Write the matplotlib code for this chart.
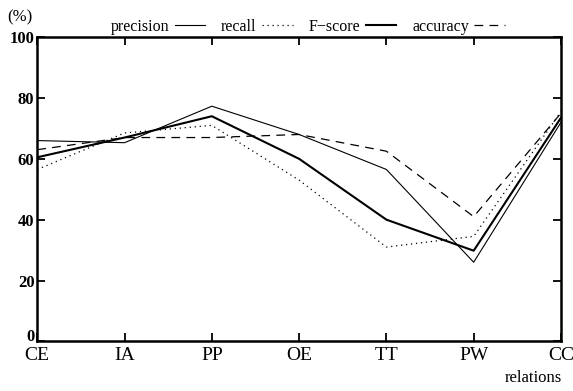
import matplotlib
matplotlib.use("Agg")
import matplotlib.pyplot as plt
import matplotlib.transforms as mtrans

plt.rcParams['font.family'] = ['Liberation Serif', 'DejaVu Serif']

# relation categories and scores (%)
relations = ['CE', 'IA', 'PP', 'OE', 'TT', 'PW', 'CC']
precision = [66, 65.3, 77.3, 68, 56.5, 26, 72]
recall = [56.5, 68.5, 71, 53, 31, 34.5, 75.5]
fscore = [60.5, 67, 74, 60, 40, 29.8, 73.5]
accuracy = [63, 67, 67, 68, 62.5, 41, 75]

x = list(range(len(relations)))

fig = plt.figure(figsize=(5.73, 3.91), dpi=100)
ax = fig.add_axes([0.065, 0.127, 0.914, 0.778])

ax.plot(x, precision, color='black', lw=0.8, label='precision')
ax.plot(x, recall, color='black', lw=0.9, ls=(0, (1, 3)), label='recall')
ax.plot(x, fscore, color='black', lw=1.5, label='F\u2212score')
ax.plot(x, accuracy, color='black', lw=0.9, ls=(0, (7, 5)), label='accuracy')

ax.set_xlim(0, len(relations) - 1)
ax.set_ylim(0, 100)
ax.set_xticks(x)
ax.set_xticklabels(relations, fontsize=14)
ax.set_yticks([0, 20, 40, 60, 80, 100])
ax.set_yticklabels(['0', '20', '40', '60', '80', '100'], fontsize=12, fontweight='bold')
ax.tick_params(direction='in', length=6, width=1.3, top=True, right=True, pad=2)
ax.tick_params(axis='x', pad=4)
for s in ax.spines.values():
    s.set_linewidth(1.8)

# lift the bottom label a little so it clears "CE"
lift = mtrans.ScaledTranslation(0, 4.5 / 72, fig.dpi_scale_trans)
ax.get_yticklabels()[0].set_transform(ax.get_yticklabels()[0].get_transform() + lift)

fig.text(0.035, 0.955, '(%)', fontsize=12, ha='center', va='center')
fig.text(0.93, 0.012, 'relations', fontsize=12, ha='center', va='bottom')

fig.legend(loc='center', bbox_to_anchor=(0.537, 0.931), ncol=4, frameon=False,
           markerfirst=False, fontsize=11.5, handlelength=1.9, handletextpad=0.35,
           columnspacing=1.0, borderpad=0)

fig.savefig('out.png', dpi=100)
